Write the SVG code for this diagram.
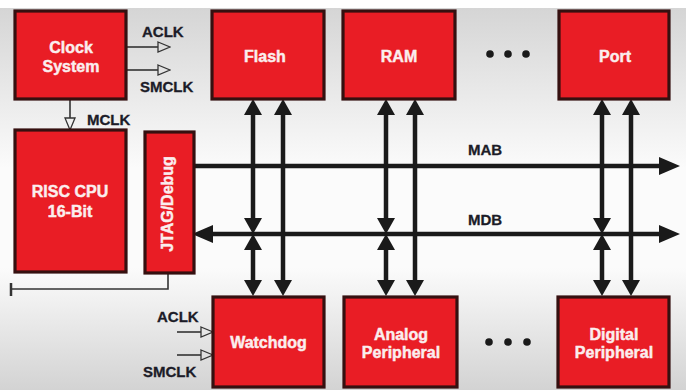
<svg xmlns="http://www.w3.org/2000/svg" width="686" height="390" viewBox="0 0 686 390">
  <defs>
    <linearGradient id="bg" x1="0" y1="0" x2="0" y2="1">
      <stop offset="0" stop-color="#d5d5d5"/>
      <stop offset="0.42" stop-color="#fbfbfb"/>
      <stop offset="0.68" stop-color="#fbfbfb"/>
      <stop offset="1" stop-color="#d3d3d3"/>
    </linearGradient>
    <!-- solid head for vertical bus taps -->
    <marker id="vh" viewBox="0 0 16 18" refX="8" refY="9" markerWidth="16" markerHeight="18" markerUnits="userSpaceOnUse" orient="auto-start-reverse">
      <path d="M0,0 L16,9 L0,18 Z" fill="#1a1a1a"/>
    </marker>
    <!-- solid head for the main buses -->
    <marker id="bh" viewBox="0 0 21 18" refX="10" refY="9" markerWidth="21" markerHeight="18" markerUnits="userSpaceOnUse" orient="auto-start-reverse">
      <path d="M0,0 L21,9 L0,18 Z" fill="#1a1a1a"/>
    </marker>
    <!-- open triangle for clock signals -->
    <marker id="ot" viewBox="0 0 14 12" refX="1" refY="6" markerWidth="14" markerHeight="12" markerUnits="userSpaceOnUse" orient="auto">
      <path d="M1,1 L13,6 L1,11 Z" fill="none" stroke="#333" stroke-width="1.3"/>
    </marker>
  </defs>
  <style>
    .box { fill: #e91d25; stroke: #351010; stroke-width: 3.2; }
    .bt { font-family: "Liberation Sans", Arial, sans-serif; font-weight: bold; font-size: 16px; fill: #fbeeee; stroke: #fbeeee; stroke-width: 0.45; text-anchor: middle; }
    .lbl { font-family: "Liberation Sans", Arial, sans-serif; font-weight: bold; font-size: 15px; fill: #1c1c28; stroke: #1c1c28; stroke-width: 0.3; }
    .bus { stroke: #1a1a1a; stroke-width: 4.5; fill: none; }
    .tap { stroke: #1a1a1a; stroke-width: 4.5; fill: none; }
    .clk { stroke: #333; stroke-width: 1.6; fill: none; }
    .dot { fill: #1a1a1a; }
  </style>

  <rect x="0" y="0" width="686" height="390" fill="#ffffff"/>
  <rect x="0" y="8" width="686" height="382" fill="url(#bg)"/>

  <!-- connectors -->
  <g id="connectors">
    <!-- address and data buses -->
    <line class="bus" x1="194" y1="166" x2="669" y2="166" marker-end="url(#bh)"/>
    <line class="bus" x1="203" y1="234" x2="669" y2="234" marker-start="url(#bh)" marker-end="url(#bh)"/>

    <!-- Flash / Watchdog taps -->
    <line class="tap" x1="253" y1="107" x2="253" y2="226" marker-start="url(#vh)" marker-end="url(#vh)"/>
    <line class="tap" x1="253" y1="242" x2="253" y2="288" marker-start="url(#vh)" marker-end="url(#vh)"/>
    <line class="tap" x1="283" y1="107" x2="283" y2="288" marker-start="url(#vh)" marker-end="url(#vh)"/>

    <!-- RAM / Analog taps -->
    <line class="tap" x1="386" y1="107" x2="386" y2="226" marker-start="url(#vh)" marker-end="url(#vh)"/>
    <line class="tap" x1="386" y1="242" x2="386" y2="288" marker-start="url(#vh)" marker-end="url(#vh)"/>
    <line class="tap" x1="415" y1="107" x2="415" y2="288" marker-start="url(#vh)" marker-end="url(#vh)"/>

    <!-- Port / Digital taps -->
    <line class="tap" x1="602" y1="107" x2="602" y2="226" marker-start="url(#vh)" marker-end="url(#vh)"/>
    <line class="tap" x1="602" y1="242" x2="602" y2="288" marker-start="url(#vh)" marker-end="url(#vh)"/>
    <line class="tap" x1="631" y1="107" x2="631" y2="288" marker-start="url(#vh)" marker-end="url(#vh)"/>

    <!-- clock outputs -->
    <line class="clk" x1="126" y1="47" x2="158" y2="47" marker-end="url(#ot)"/>
    <line class="clk" x1="126" y1="70" x2="158" y2="70" marker-end="url(#ot)"/>
    <line class="clk" x1="70" y1="99" x2="70" y2="118" marker-end="url(#ot)"/>

    <!-- watchdog clock inputs -->
    <line class="clk" x1="177" y1="332" x2="201" y2="332" marker-end="url(#ot)"/>
    <line class="clk" x1="177" y1="355" x2="201" y2="355" marker-end="url(#ot)"/>

    <!-- JTAG external line -->
    <polyline class="clk" stroke-width="2" points="168,273 168,289 11,289"/>
    <line stroke="#333" stroke-width="2.5" x1="11" y1="283" x2="11" y2="296"/>
  </g>

  <!-- signal labels -->
  <g id="labels">
    <text class="lbl" x="142" y="37">ACLK</text>
    <text class="lbl" x="140" y="92">SMCLK</text>
    <text class="lbl" x="87" y="125">MCLK</text>
    <text class="lbl" x="157" y="322">ACLK</text>
    <text class="lbl" x="143" y="377">SMCLK</text>
    <text class="lbl" x="468" y="155">MAB</text>
    <text class="lbl" x="468" y="225">MDB</text>
  </g>

  <g id="clock-system">
    <rect class="box" x="15" y="11" width="111" height="88"/>
    <text class="bt" x="71" y="53">Clock</text>
    <text class="bt" x="71" y="72">System</text>
  </g>

  <g id="risc-cpu">
    <rect class="box" x="15" y="130" width="111" height="142"/>
    <text class="bt" x="70" y="197" font-size="15">RISC CPU</text>
    <text class="bt" x="70" y="217" font-size="15">16-Bit</text>
  </g>

  <g id="jtag-debug">
    <rect class="box" x="145" y="132" width="49" height="141"/>
    <text class="bt" font-size="13" transform="translate(173,204) rotate(-90)">JTAG/Debug</text>
  </g>

  <g id="flash">
    <rect class="box" x="212" y="11" width="112" height="88"/>
    <text class="bt" x="265" y="62">Flash</text>
  </g>

  <g id="ram">
    <rect class="box" x="343" y="11" width="112" height="88"/>
    <text class="bt" x="399" y="62">RAM</text>
  </g>

  <g id="dots-top">
    <circle class="dot" cx="490" cy="54" r="3.8"/>
    <circle class="dot" cx="508" cy="54" r="3.8"/>
    <circle class="dot" cx="526" cy="54" r="3.8"/>
  </g>

  <g id="port">
    <rect class="box" x="559" y="11" width="110" height="88"/>
    <text class="bt" x="615" y="62">Port</text>
  </g>

  <g id="watchdog">
    <rect class="box" x="213" y="297" width="111" height="90"/>
    <text class="bt" x="268.5" y="348">Watchdog</text>
  </g>

  <g id="analog-peripheral">
    <rect class="box" x="344" y="297" width="113" height="90"/>
    <text class="bt" x="401" y="340">Analog</text>
    <text class="bt" x="401" y="358">Peripheral</text>
  </g>

  <g id="dots-bottom">
    <circle class="dot" cx="489" cy="342" r="3.8"/>
    <circle class="dot" cx="508" cy="342" r="3.8"/>
    <circle class="dot" cx="527" cy="342" r="3.8"/>
  </g>

  <g id="digital-peripheral">
    <rect class="box" x="558" y="297" width="111" height="90"/>
    <text class="bt" x="614" y="340">Digital</text>
    <text class="bt" x="614" y="358">Peripheral</text>
  </g>
</svg>
